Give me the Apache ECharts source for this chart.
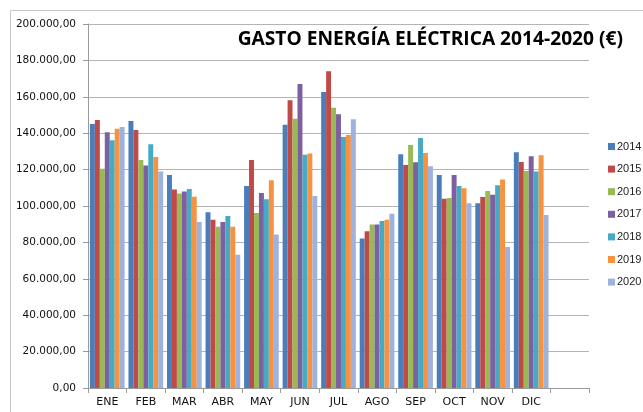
<!DOCTYPE html>
<html>
<head>
<meta charset="utf-8">
<script src="https://cdn.jsdelivr.net/npm/echarts@6/dist/echarts.min.js"></script>
<style>
  html, body { margin: 0; padding: 0; background: #fff; }
  #chart { width: 643px; height: 412px; }
</style>
</head>
<body>
<div id="chart"></div>
<script>
// meses (the last empty slot is kept like the spreadsheet range)
const months = ['ENE','FEB','MAR','ABR','MAY','JUN','JUL','AGO','SEP','OCT','NOV','DIC','']
const years = ['2014','2015','2016','2017','2018','2019','2020']

const g2014 = [145100,146700,117000,96500,111000,144700,162600,82200,128400,117000,101500,129500]
const g2015 = [147300,141800,109000,92500,125300,158100,174000,86100,122500,104000,104900,124200]
const g2016 = [120500,125300,106800,88600,96200,148000,154000,89900,133500,104400,108200,119200]
const g2017 = [140500,122200,107900,91200,107100,167000,150400,89900,124000,117000,106200,127300]
const g2018 = [136100,133900,109300,94500,103700,128200,137900,91800,137400,111000,111400,118900]
const g2019 = [142500,126900,105100,88600,114100,128900,139000,92500,129100,109700,114500,127900]
const g2020 = [143400,118900,91200,73200,84400,105500,147600,95800,121800,101500,77500,95100]

const yTicks = [0,20000,40000,60000,80000,100000,120000,140000,160000,180000,200000]

const colors = ['#4A7EBB','#BE4B48','#98B954','#7D60A0','#46AAC5','#F69240','#9DB3DD']
const seriesData = [g2014,g2015,g2016,g2017,g2018,g2019,g2020]

function fmt(v){
  const s = Math.round(v).toString().replace(/\B(?=(\d{3})+(?!\d))/g,'.')
  return s + ',00'
}

const chart = echarts.init(document.getElementById('chart'))
chart.setOption({
  animation:false,
  textStyle:{fontFamily:'DejaVu Sans'},
  graphic:[{
    type:'rect',
    shape:{x:10.5,y:10.5,width:640,height:410},
    style:{fill:'none',stroke:'#c8c8c8',lineWidth:1},
    silent:true
  }],
  title:{
    text:'GASTO ENERGÍA ELÉCTRICA 2014-2020 (€)',
    right:15,
    top:25,
    textStyle:{fontFamily:'Open Sans',fontWeight:'bold',fontSize:19.2,color:'#000'}
  },
  legend:{
    orient:'vertical',
    left:608,
    top:141,
    padding:0,
    itemGap:11.6,
    itemWidth:7,
    itemHeight:7,
    icon:'rect',
    textStyle:{fontFamily:'Liberation Sans',fontSize:11,color:'#222',padding:[0,0,0,-3]},
    data:years
  },
  grid:{left:88,right:54,top:24,bottom:24},
  xAxis:{
    type:'category',
    data:months,
    axisLine:{lineStyle:{color:'#9a9a9a'}},
    axisTick:{show:true,length:5,lineStyle:{color:'#9a9a9a'}},
    axisLabel:{color:'#111',fontSize:11,margin:9}
  },
  yAxis:{
    type:'value',
    min:yTicks[0],
    max:yTicks[yTicks.length-1],
    interval:20000,
    axisLine:{show:true,lineStyle:{color:'#9a9a9a'}},
    axisTick:{show:true,length:5,lineStyle:{color:'#9a9a9a'}},
    splitLine:{lineStyle:{color:'#b4b4b4'}},
    axisLabel:{color:'#111',fontSize:10.5,margin:12,formatter:fmt}
  },
  series:years.map((y,i)=>({
    name:y,
    type:'bar',
    data:seriesData[i],
    barGap:'0%',
    barCategoryGap:'10%',
    itemStyle:{color:colors[i]}
  }))
})
</script>
</body>
</html>
